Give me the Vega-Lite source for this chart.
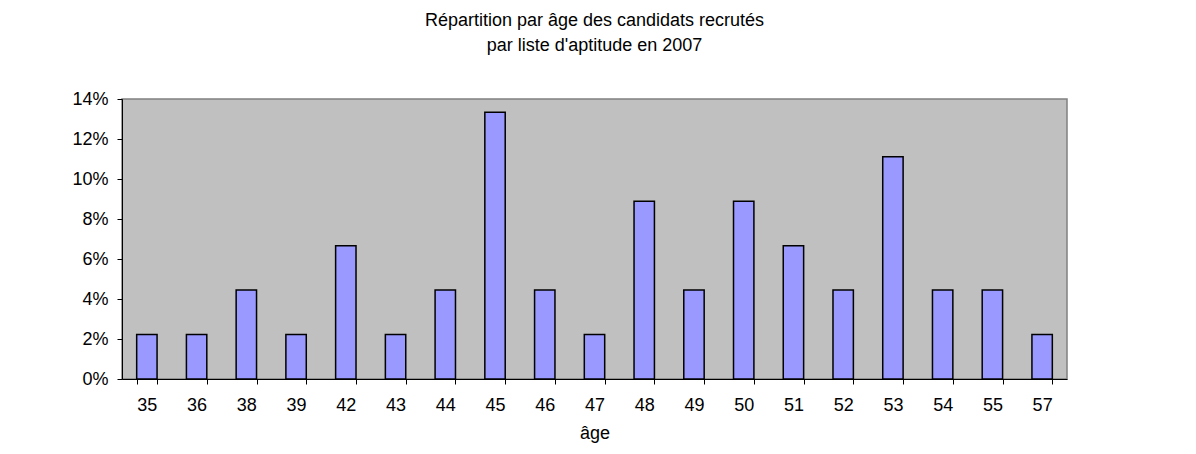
{
  "$schema": "https://vega.github.io/schema/vega-lite/v6.json",
  "width": 945,
  "height": 280,
  "autosize": {"type": "none"},
  "padding": {"left": 122, "top": 99, "right": 129, "bottom": 75},
  "background": "white",
  "title": {
    "text": ["Répartition par âge des candidats recrutés", "par liste d'aptitude en 2007"],
    "font": "Liberation Sans",
    "fontSize": 18,
    "fontWeight": "normal",
    "color": "black",
    "lineHeight": 25,
    "anchor": "middle",
    "offset": 35
  },
  "data": {
    "values": [
      {"age": "35", "pct": 0.02222},
      {"age": "36", "pct": 0.02222},
      {"age": "38", "pct": 0.04444},
      {"age": "39", "pct": 0.02222},
      {"age": "42", "pct": 0.06667},
      {"age": "43", "pct": 0.02222},
      {"age": "44", "pct": 0.04444},
      {"age": "45", "pct": 0.13333},
      {"age": "46", "pct": 0.04444},
      {"age": "47", "pct": 0.02222},
      {"age": "48", "pct": 0.08889},
      {"age": "49", "pct": 0.04444},
      {"age": "50", "pct": 0.08889},
      {"age": "51", "pct": 0.06667},
      {"age": "52", "pct": 0.04444},
      {"age": "53", "pct": 0.11111},
      {"age": "54", "pct": 0.04444},
      {"age": "55", "pct": 0.04444},
      {"age": "57", "pct": 0.02222}
    ]
  },
  "mark": {"type": "bar", "color": "#9999FF", "stroke": "black", "strokeWidth": 1.5},
  "encoding": {
    "x": {
      "field": "age",
      "type": "ordinal",
      "sort": null,
      "scale": {"paddingInner": 0.59, "paddingOuter": 0.295},
      "axis": {
        "title": "âge",
        "labelAngle": 0,
        "tickBand": "extent",
        "tickSize": 5,
        "labelPadding": 12,
        "titlePadding": 10
      }
    },
    "y": {
      "field": "pct",
      "type": "quantitative",
      "scale": {"domain": [0, 0.14], "nice": false},
      "axis": {
        "title": null,
        "format": ".0%",
        "values": [0, 0.02, 0.04, 0.06, 0.08, 0.1, 0.12, 0.14],
        "grid": false,
        "tickSize": 5,
        "labelPadding": 9
      }
    }
  },
  "config": {
    "view": {"fill": "#C0C0C0", "stroke": "#808080", "strokeWidth": 1.5},
    "axis": {
      "domainColor": "black",
      "domainWidth": 1,
      "tickColor": "black",
      "labelFont": "Liberation Sans",
      "labelFontSize": 18,
      "labelColor": "black",
      "titleFont": "Liberation Sans",
      "titleFontSize": 18,
      "titleFontWeight": "normal",
      "titleColor": "black"
    }
  }
}
